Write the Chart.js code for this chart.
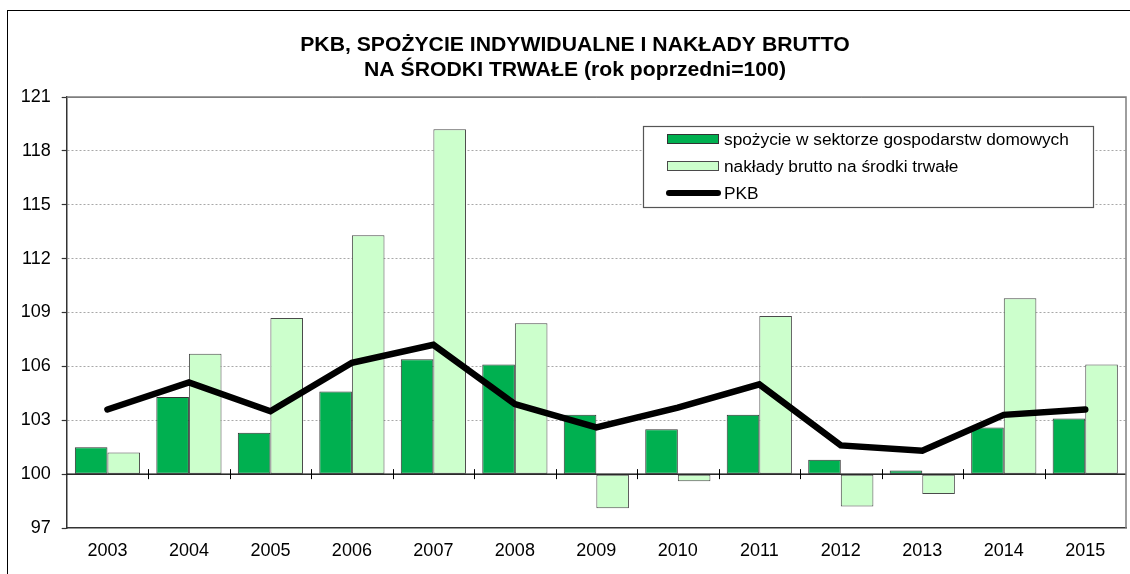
<!DOCTYPE html>
<html>
<head>
<meta charset="utf-8">
<script src="https://cdn.jsdelivr.net/npm/chart.js@4"></script>
<style>
  html, body { margin: 0; padding: 0; background: #fff; }
  #wrap { position: relative; width: 1130px; height: 574px; overflow: hidden; }
  #frame { position: absolute; left: 7px; top: 10px; width: 1200px; height: 700px;
           border-left: 1.5px solid #000; border-top: 1.5px solid #000; }
  canvas { position: absolute; left: 0; top: 0; }
</style>
</head>
<body>
<div id="wrap">
  <div id="frame"></div>
  <canvas id="c" width="1130" height="574"></canvas>
</div>
<script>
const categories = ['2003','2004','2005','2006','2007','2008','2009','2010','2011','2012','2013','2014','2015'];
const consumption = [101.5,104.3,102.3,104.6,106.4,106.1,103.3,102.5,103.3,100.8,100.2,102.6,103.1];
const investment = [101.2,106.7,108.7,113.3,119.2,108.4,98.1,99.6,108.8,98.2,98.9,109.8,106.1];
const gdp = [103.6,105.1,103.5,106.2,107.2,103.9,102.6,103.7,105.0,101.6,101.3,103.3,103.6];
const yTicks = [97,100,103,106,109,112,115,118,121];
const titleLines = ['PKB, SPOŻYCIE INDYWIDUALNE I NAKŁADY BRUTTO','NA ŚRODKI TRWAŁE (rok poprzedni=100)'];
const seriesNames = ['spożycie w sektorze gospodarstw domowych','nakłady brutto na środki trwałe','PKB'];

const FONT = "Arial, 'Liberation Sans', sans-serif";
const DARK = '#00B050', LIGHT = '#CCFFCC', EDGE = '#333';

const extras = {
  id: 'extras',
  afterDatasetsDraw(chart) {
    const {ctx, chartArea: a, scales: {x, y}} = chart;
    const y100 = y.getPixelForValue(100);
    ctx.save();
    ctx.strokeStyle = '#000'; ctx.lineWidth = 1.2;
    ctx.beginPath(); ctx.moveTo(a.left, y100); ctx.lineTo(a.right, y100); ctx.stroke();
    ctx.lineWidth = 1;
    for (let i = 0; i < categories.length - 1; i++) {
      const bx = Math.round((x.getPixelForTick(i) + x.getPixelForTick(i + 1)) / 2) + 0.5;
      ctx.beginPath(); ctx.moveTo(bx, y100 - 5); ctx.lineTo(bx, y100 + 5); ctx.stroke();
    }
    ctx.restore();
  },
  afterDraw(chart) {
    const {ctx, chartArea: a} = chart;
    ctx.save();
    ctx.strokeStyle = '#7f7f7f'; ctx.lineWidth = 1.5;
    ctx.beginPath(); ctx.moveTo(a.left, a.top); ctx.lineTo(a.right, a.top); ctx.lineTo(a.right, a.bottom); ctx.stroke();
    // title (slightly widened to match the reference proportions)
    ctx.fillStyle = '#000';
    ctx.font = 'bold 20px ' + FONT;
    ctx.textAlign = 'center'; ctx.textBaseline = 'middle';
    ctx.save();
    ctx.translate(575, 0); ctx.scale(1.06, 1);
    ctx.fillText(titleLines[0], 0, 45);
    ctx.fillText(titleLines[1], 0, 70);
    ctx.restore();
    // legend
    const L = 643, T = 126, R = 1093, B = 207;
    ctx.fillStyle = '#fff'; ctx.fillRect(L, T, R - L, B - T);
    ctx.strokeStyle = '#555'; ctx.lineWidth = 1.2; ctx.strokeRect(L + 0.5, T + 0.5, R - L, B - T);
    const rows = [139, 166, 193];
    const ds = chart.data.datasets;
    ctx.font = '17.3px ' + FONT; ctx.textAlign = 'left'; ctx.textBaseline = 'middle';
    for (let i = 0; i < 3; i++) {
      const yy = rows[i];
      const d = ds[i];
      if (d.type === 'line') {
        ctx.strokeStyle = d.borderColor; ctx.lineWidth = 6; ctx.lineCap = 'round';
        ctx.beginPath(); ctx.moveTo(669, yy); ctx.lineTo(718, yy); ctx.stroke();
        ctx.lineCap = 'butt';
      } else {
        ctx.fillStyle = d.backgroundColor; ctx.fillRect(667, yy - 4.5, 52, 9);
        ctx.strokeStyle = d.borderColor; ctx.lineWidth = 1; ctx.strokeRect(667.5, yy - 4.5, 51, 9);
      }
      ctx.fillStyle = '#000';
      ctx.fillText(d.label, 724, yy + 1);
    }
    ctx.restore();
  }
};

new Chart(document.getElementById('c'), {
  data: {
    labels: categories,
    datasets: [
      { type: 'bar', label: seriesNames[0], data: consumption, base: 100,
        backgroundColor: DARK, borderColor: EDGE, borderWidth: 1, borderSkipped: false, order: 2 },
      { type: 'bar', label: seriesNames[1], data: investment, base: 100,
        backgroundColor: LIGHT, borderColor: '#4a4a4a', borderWidth: 1, borderSkipped: false, order: 2 },
      { type: 'line', label: seriesNames[2], data: gdp, borderColor: '#000', backgroundColor: '#000',
        borderWidth: 6.5, pointRadius: 0, tension: 0, borderCapStyle: 'round', borderJoinStyle: 'miter', order: 0 }
    ]
  },
  options: {
    responsive: false,
    animation: false,
    events: [],
    layout: { padding: { top: 97, right: 4, left: 0, bottom: 0 } },
    plugins: { legend: { display: false }, title: { display: false }, tooltip: { enabled: false } },
    datasets: { bar: { categoryPercentage: 0.8, barPercentage: 1.0 } },
    scales: {
      x: {
        offset: true,
        grid: { display: false, drawTicks: false },
        border: { display: true, color: '#333', width: 1.5 },
        ticks: { color: '#000', font: { family: FONT, size: 18 }, padding: 12, maxRotation: 0 },
        afterFit(s) { s.height = 46; }
      },
      y: {
        min: 97, max: 121,
        afterBuildTicks(s) { s.ticks = yTicks.map(v => ({ value: v })); },
        grid: {
          color: c => (c.tick && c.tick.value === 121) ? '#7f7f7f' : ((c.tick && c.tick.value === 97) ? 'rgba(0,0,0,0)' : '#a8a8a8'),
          lineWidth: 1,
          tickLength: 5, tickColor: '#333', tickBorderDash: [], tickWidth: 1.2
        },
        border: { display: true, color: '#333', width: 1.5,
          dash: c => (c.type === 'tick' && c.tick && ![97, 100, 121].includes(c.tick.value)) ? [2, 2] : [] },
        ticks: { color: '#000', font: { family: FONT, size: 18 }, padding: 11 },
        afterFit(s) { s.width = 66.7; }
      }
    }
  },
  plugins: [extras]
});
</script>
</body>
</html>
